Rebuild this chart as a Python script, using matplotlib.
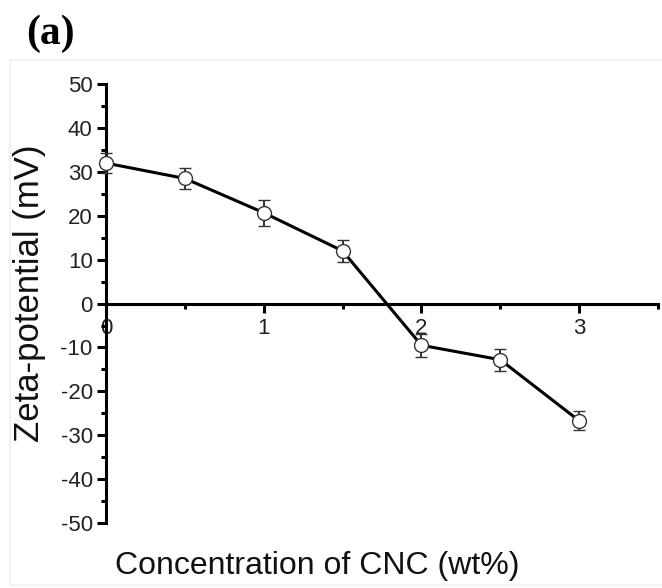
import matplotlib.pyplot as plt
from matplotlib.ticker import MultipleLocator
from matplotlib.patches import Rectangle

plt.rcParams['axes.unicode_minus'] = False
plt.rcParams['font.family'] = 'Liberation Sans'

# zeta potential vs CNC loading
conc = [0, 0.5, 1, 1.5, 2, 2.5, 3]
zeta = [32, 28.5, 20.7, 12, -9.5, -12.8, -26.7]
zeta_err = [2.3, 2.3, 3.0, 2.5, 2.6, 2.5, 2.2]

fig = plt.figure(figsize=(6.62, 5.88), dpi=100)
ax = fig.add_axes([0.160, 0.1105, 0.834, 0.7465])

# faint frame from the original figure
fig.patches.append(Rectangle((0.015, 0.005), 0.99, 0.893, transform=fig.transFigure,
                             fill=False, edgecolor='#f2f2f2', linewidth=1.5))

ax.errorbar(conc, zeta, yerr=zeta_err, color='black', linewidth=2.2,
            marker='o', markersize=10, markerfacecolor='white',
            markeredgecolor='#333333', markeredgewidth=1.0,
            ecolor='#333333', elinewidth=1.4, capsize=4, capthick=1.4,
            clip_on=False, zorder=3)

ax.set_xlim(0, 3.5)
ax.set_ylim(-50, 50)

ax.spines['top'].set_visible(False)
ax.spines['right'].set_visible(False)
ax.spines['left'].set_linewidth(2.2)
ax.spines['bottom'].set_linewidth(2.2)
ax.spines['bottom'].set_position(('data', 0))

ax.xaxis.set_major_locator(MultipleLocator(1))
ax.xaxis.set_minor_locator(MultipleLocator(0.5))
ax.yaxis.set_major_locator(MultipleLocator(10))
ax.yaxis.set_minor_locator(MultipleLocator(5))

ax.tick_params(axis='both', which='major', direction='out', length=6.5, width=2.2,
               labelsize=16, labelcolor='#222222')
ax.tick_params(axis='both', which='minor', direction='out', length=3.5, width=2.2)
ax.tick_params(axis='x', which='major', pad=4)
ax.tick_params(axis='y', which='major', pad=3)

fig.text(0.479, 0.0238, 'Concentration of CNC (wt%)', fontsize=23,
         color='#111111', ha='center', va='baseline')
fig.text(0.044, 0.502, 'Zeta-potential (mV)', fontsize=25, rotation=90,
         color='#111111', ha='center', va='center')

fig.text(0.04, 0.975, '(a)', fontsize=30, fontweight='bold',
         family='Liberation Serif', va='top', ha='left')

fig.savefig('out.png', dpi=100)
